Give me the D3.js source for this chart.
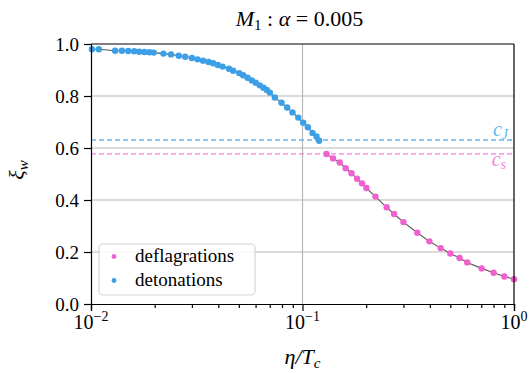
<!DOCTYPE html>
<html>
<head>
<meta charset="utf-8">
<script src="https://cdn.jsdelivr.net/npm/d3@7"></script>
<style>
  body { margin: 0; background: #fff; }
  svg text { font-family: "Liberation Serif", "Times New Roman", serif !important; }
</style>
</head>
<body>
<script>
// Chart data
var title = 'M';
var detEta = [0.0101, 0.0109, 0.0130, 0.0140, 0.0150, 0.0160, 0.0169, 0.0179, 0.0189, 0.0198,
              0.0220, 0.0239, 0.0260, 0.0279, 0.0300, 0.0319, 0.0339, 0.0360, 0.0378, 0.0398,
              0.0419, 0.0449, 0.0470, 0.0502, 0.0524, 0.0550, 0.0576, 0.0601, 0.0628, 0.0654,
              0.0678, 0.0701, 0.0740, 0.0796, 0.0846, 0.0897, 0.0955, 0.1008, 0.1060, 0.1115,
              0.1165, 0.1198];
var detXi = [0.980, 0.980, 0.974, 0.974, 0.973, 0.972, 0.970, 0.969, 0.968, 0.967,
             0.963, 0.960, 0.955, 0.951, 0.946, 0.941, 0.936, 0.931, 0.926, 0.919,
             0.913, 0.905, 0.897, 0.888, 0.880, 0.870, 0.860, 0.851, 0.841, 0.832,
             0.823, 0.813, 0.794, 0.774, 0.756, 0.737, 0.717, 0.697, 0.680, 0.658,
             0.644, 0.628];
var defEta = [0.1298, 0.1395, 0.150, 0.160, 0.1704, 0.1811, 0.1912, 0.2005, 0.2213, 0.250,
              0.271, 0.300, 0.349, 0.398, 0.450, 0.500, 0.553, 0.601, 0.703, 0.801,
              0.900, 1.0];
var defXi = [0.577, 0.560, 0.544, 0.522, 0.503, 0.482, 0.464, 0.446, 0.413, 0.372,
             0.346, 0.315, 0.274, 0.241, 0.215, 0.194, 0.177, 0.160, 0.137, 0.120,
             0.106, 0.095];
var cJ = 0.631;
var cs = 1 / Math.sqrt(3);
var yTicks = [0, 0.2, 0.4, 0.6, 0.8, 1.0];
var xTicks = [0.01, 0.1, 1];
var xTickExp = ['\u22122', '\u22121', '0'];

var blue = '#3d9fe6', pink = '#f060cf';
var serif = '"Liberation Serif", "Times New Roman", serif';

var margin = {top: 44, right: 17, bottom: 69, left: 91},
    width = 531 - margin.left - margin.right,
    height = 373 - margin.top - margin.bottom;

var xScale = d3.scaleLog().domain([0.01, 1]).range([0, width]),
    yScale = d3.scaleLinear().domain([0, 1]).range([height, 0]);

var svg = d3.select('body').append('svg')
    .attr('width', 531)
    .attr('height', 373)
    .attr('font-family', serif);

var g = svg.append('g')
    .attr('transform', 'translate(' + margin.left + ',' + margin.top + ')');

// grid
g.selectAll('.hgrid').data(yTicks.slice(1, 5)).enter().append('line')
    .attr('x1', 0).attr('x2', width)
    .attr('y1', function(d) { return yScale(d); })
    .attr('y2', function(d) { return yScale(d); })
    .attr('stroke', '#cfcfcf').attr('stroke-width', 1.5);
g.append('line')
    .attr('x1', xScale(0.1)).attr('x2', xScale(0.1))
    .attr('y1', 0).attr('y2', height)
    .attr('stroke', '#b8b8b8').attr('stroke-width', 1.2);

// sound speed lines
g.append('line')
    .attr('x1', 0).attr('x2', width)
    .attr('y1', yScale(cJ)).attr('y2', yScale(cJ))
    .attr('stroke', '#62b6f0').attr('stroke-width', 1.4)
    .attr('stroke-dasharray', '5,3');
g.append('line')
    .attr('x1', 0).attr('x2', width)
    .attr('y1', yScale(cs)).attr('y2', yScale(cs))
    .attr('stroke', '#f47fda').attr('stroke-width', 1.4)
    .attr('stroke-dasharray', '5,3');

var lblJ = g.append('text')
    .attr('x', width - 6).attr('y', yScale(cJ) - 4)
    .attr('text-anchor', 'end')
    .style('font-size', '20px').style('fill', '#62b6f0');
lblJ.append('tspan').text('c').style('font-style', 'italic').style('fill', '#62b6f0');
lblJ.append('tspan').text('J').attr('dy', 3).style('font-size', '14px').style('font-style', 'italic').style('fill', '#62b6f0');

var lblS = g.append('text')
    .attr('x', width - 8).attr('y', yScale(cs) + 12)
    .attr('text-anchor', 'end')
    .style('font-size', '20px').style('fill', '#f47fda');
lblS.append('tspan').text('c').style('font-style', 'italic').style('fill', '#f47fda');
lblS.append('tspan').text('s').attr('dy', 3).style('font-size', '14px').style('font-style', 'italic').style('fill', '#f47fda');

// curves
var drawLine = d3.line()
    .x(function(d) { return xScale(d[0]); })
    .y(function(d) { return yScale(d[1]); });

var det = detEta.map(function(e, i) { return [e, detXi[i]]; });
var def = defEta.map(function(e, i) { return [e, defXi[i]]; });

g.append('path').attr('d', drawLine(det))
    .attr('fill', 'none').attr('stroke', '#555').attr('stroke-width', 1.1);
g.append('path').attr('d', drawLine(def))
    .attr('fill', 'none').attr('stroke', '#555').attr('stroke-width', 1.1);

g.selectAll('.det').data(det).enter().append('circle')
    .attr('cx', function(d) { return xScale(d[0]); })
    .attr('cy', function(d) { return yScale(d[1]); })
    .attr('r', 3.2).attr('fill', blue);
g.selectAll('.def').data(def).enter().append('circle')
    .attr('cx', function(d) { return xScale(d[0]); })
    .attr('cy', function(d) { return yScale(d[1]); })
    .attr('r', 3.2).attr('fill', pink);

// axes
var yAxis = g.append('g')
    .call(d3.axisLeft(yScale).tickValues(yTicks).tickFormat(d3.format('.1f')).tickSize(7).tickPadding(5));
yAxis.attr('font-family', serif);
yAxis.selectAll('text').style('font-size', '19px');

var minor = [];
[0.01, 0.1].forEach(function(b) { for (var k = 2; k < 10; k++) minor.push(b * k); });
g.append('g')
    .attr('transform', 'translate(0,' + height + ')')
    .call(d3.axisBottom(xScale).tickValues(minor).tickFormat('').tickSize(4));
g.append('g')
    .attr('transform', 'translate(0,' + height + ')')
    .call(d3.axisBottom(xScale).tickValues(xTicks).tickFormat('').tickSize(7));
g.selectAll('.domain').attr('stroke', '#000').attr('stroke-width', 1.2);
g.selectAll('.tick line').attr('stroke', '#000').attr('stroke-width', 1.2);

xTicks.forEach(function(t, i) {
    var tx = g.append('text')
        .attr('x', xScale(t)).attr('y', height + 25)
        .attr('text-anchor', 'middle')
        .style('font-size', '20px');
    tx.append('tspan').text('10');
    tx.append('tspan').text(xTickExp[i]).attr('dy', -8).style('font-size', '14px');
});

// frame top/right
g.append('line').attr('x1', 0).attr('x2', width).attr('y1', 0).attr('y2', 0)
    .attr('stroke', '#000').attr('stroke-width', 1.2);
g.append('line').attr('x1', width).attr('x2', width).attr('y1', 0).attr('y2', height)
    .attr('stroke', '#000').attr('stroke-width', 1.2);

// title
var tt = svg.append('text')
    .attr('x', margin.left + width / 2 - 3).attr('y', 26)
    .attr('text-anchor', 'middle')
    .style('font-size', '22px');
tt.append('tspan').text(title).style('font-style', 'italic');
tt.append('tspan').text('1').attr('dy', 4).style('font-size', '15px');
tt.append('tspan').text(' :  ').attr('dy', -4);
tt.append('tspan').text('\u03b1').style('font-style', 'italic');
tt.append('tspan').text(' = 0.005');

// axis labels
var xl = svg.append('text')
    .attr('x', margin.left + width / 2).attr('y', 364)
    .attr('text-anchor', 'middle')
    .style('font-size', '22px');
xl.append('tspan').text('\u03b7/T').style('font-style', 'italic');
xl.append('tspan').text('c').attr('dy', 4).style('font-size', '15px').style('font-style', 'italic');

var yl = svg.append('text')
    .attr('transform', 'translate(24,' + (margin.top + height / 2 - 4) + ') rotate(-90)')
    .attr('text-anchor', 'middle')
    .style('font-size', '22px');
yl.append('tspan').text('\u03be').style('font-style', 'italic');
yl.append('tspan').text('w').attr('dy', 4).style('font-size', '15px').style('font-style', 'italic');

// legend
var leg = g.append('g').attr('transform', 'translate(8,200)');
leg.append('rect')
    .attr('width', 156).attr('height', 51).attr('rx', 4)
    .attr('fill', '#fff').attr('fill-opacity', 0.85)
    .attr('stroke', '#d6d6d6').attr('stroke-width', 1.2);
var entries = [['deflagrations', pink], ['detonations', blue]];
entries.forEach(function(e, i) {
    leg.append('circle').attr('cx', 15).attr('cy', 12.5 + i * 24).attr('r', 2.4).attr('fill', e[1]);
    leg.append('text').attr('x', 36).attr('y', 17.5 + i * 24)
        .style('font-size', '19px').text(e[0]);
});
</script>
</body>
</html>
